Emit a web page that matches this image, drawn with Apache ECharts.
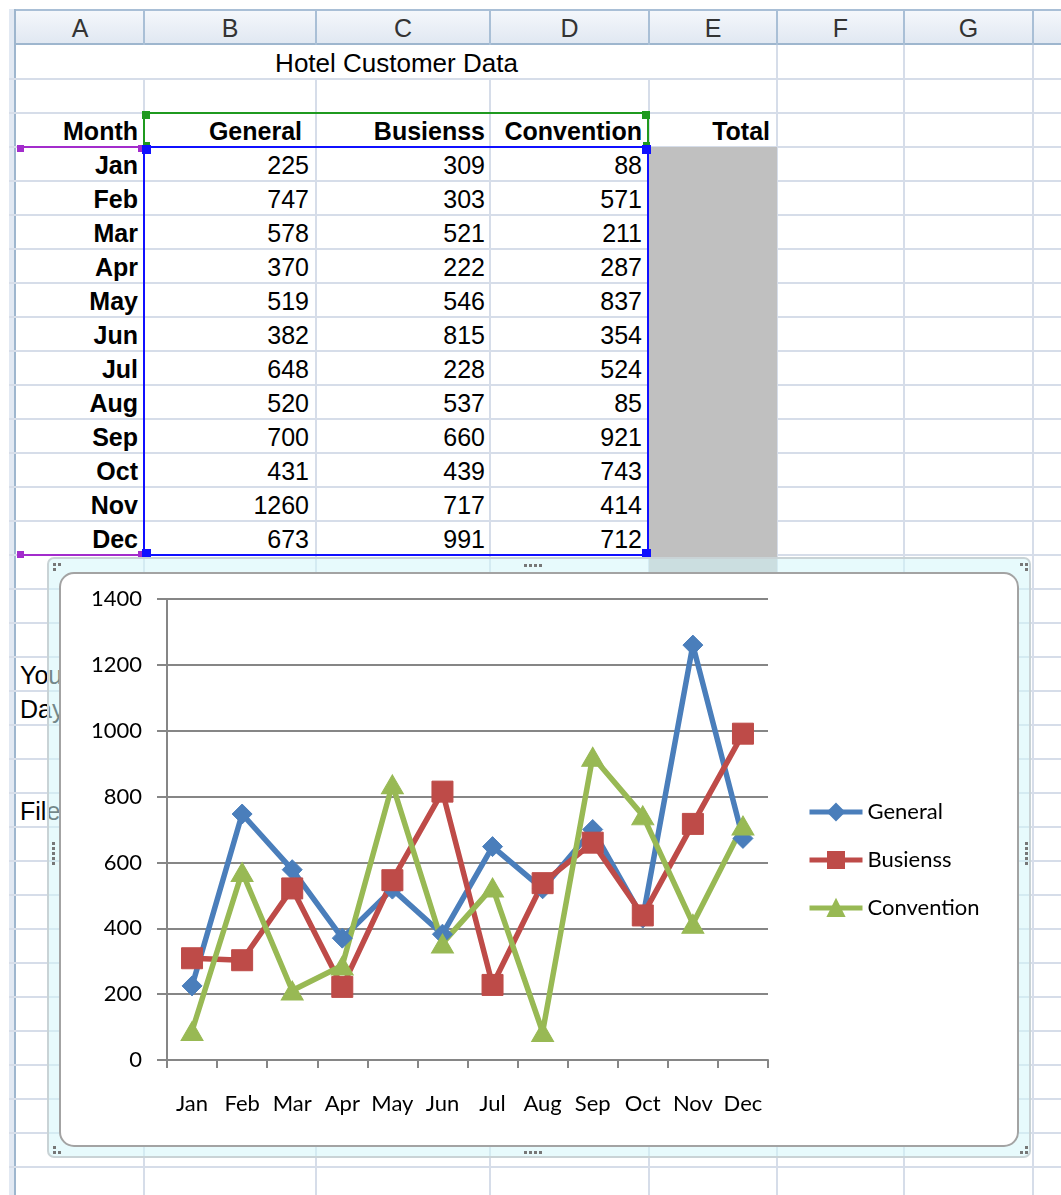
<!DOCTYPE html>
<html>
<head>
<meta charset="utf-8">
<script src="https://cdn.jsdelivr.net/npm/echarts@6/dist/echarts.min.js"></script>
<style>
  html, body { margin:0; padding:0; background:#fff; }
  body { width:1061px; height:1195px; position:relative; overflow:hidden; font-family:"Liberation Sans", Arial, sans-serif; }
  .abs { position:absolute; }
  .cell { position:absolute; height:34px; line-height:36px; font-size:25px; color:#000; white-space:nowrap; box-sizing:border-box; }
  .hdr { position:absolute; top:9px; height:36px; line-height:38px; font-size:25px; color:#333; text-align:center; }
  .dot { position:absolute; width:3px; height:3px; background:#777; }
</style>
</head>
<body>
<div id="sheet"></div>
<div class="abs" id="frame" style="left:47px;top:557px;width:984px;height:601px;box-sizing:border-box;border:2px solid #c9d3d6;border-radius:7px;background:rgba(212,246,250,0.55);"></div>
<div class="abs" id="inner" style="left:59px;top:572px;width:960px;height:575px;box-sizing:border-box;border:2px solid #a3a3a3;border-radius:15px;background:#fff;"></div>
<div class="abs" id="chart" style="left:59px;top:572px;width:960px;height:575px;"></div>
<div id="handles"></div>
<script>
// ---- data ----
const months = ['Jan','Feb','Mar','Apr','May','Jun','Jul','Aug','Sep','Oct','Nov','Dec'];
const seriesNames = ['General','Busienss','Convention'];
const general = [225,747,578,370,519,382,648,520,700,431,1260,673];
const business = [309,303,521,222,546,815,228,537,660,439,717,991];
const convention = [88,571,211,287,837,354,524,85,921,743,414,712];
const yTicks = { min:0, max:1400, interval:200 };
const title = 'Hotel Customer Data';
const colLetters = ['A','B','C','D','E','F','G','H'];

// ---- spreadsheet (HTML) ----
const sheet = document.getElementById('sheet');
const colEdges = [16,144,316,490,649,777,904,1033,1161];
const rowTop0 = 45, rowH = 34, nRows = 34;
function add(html){ sheet.insertAdjacentHTML('beforeend', html); }
function rowTop(r){ return rowTop0 + (r-1)*rowH; }

add('<div class="abs" style="left:9px;top:9px;width:1052px;height:36px;background:linear-gradient(#f4f7fb,#e1e8f2);border-top:2px solid #a9bfd6;border-bottom:2px solid #9eb6ce;box-sizing:border-box;"></div>');
add('<div class="abs" style="left:9px;top:9px;width:7px;height:1186px;background:#e2e9f3;border-right:2px solid #9eb6ce;box-sizing:border-box;"></div>');
for (let i=0;i<colLetters.length;i++){
  const x0 = colEdges[i], x1 = colEdges[i+1];
  add(`<div class="abs" style="left:${x1-1}px;top:10px;width:2px;height:35px;background:#a9bfd6;"></div>`);
  add(`<div class="hdr" style="left:${x0}px;width:${x1-x0}px;">${colLetters[i]}</div>`);
}
for (let r=1;r<=nRows;r++){
  const y = rowTop(r)+rowH;
  add(`<div class="abs" style="left:9px;top:${y-1}px;width:1052px;height:2px;background:#d6dde9;"></div>`);
}
for (let i=1;i<colEdges.length;i++){
  const x = colEdges[i];
  const startY = (x < 777) ? rowTop(2) : rowTop0;   // A1:E1 merged
  add(`<div class="abs" style="left:${x-1}px;top:${startY}px;width:2px;height:${1195-startY}px;background:#d6dde9;"></div>`);
}
add(`<div class="abs" style="left:649px;top:${rowTop(4)}px;width:128px;height:${rowH*13}px;background:#c0c0c0;"></div>`);

function cell(ci, r, text, opt){
  opt = opt || {};
  const x0 = colEdges[ci], x1 = colEdges[ci+1];
  const pad = opt.pad != null ? opt.pad : 6;
  const align = opt.align || 'right';
  const style = `left:${x0}px;top:${rowTop(r)}px;width:${x1-x0}px;text-align:${align};` +
    (align==='right' ? `padding-right:${pad}px;` : `padding-left:${pad}px;`) +
    (opt.bold ? 'font-weight:bold;' : '');
  add(`<div class="cell" style="${style}">${text}</div>`);
}
add(`<div class="cell" style="left:16px;top:${rowTop(1)}px;width:761px;text-align:center;font-size:26px;">${title}</div>`);
cell(0,3,'Month',{bold:true,pad:6});
cell(1,3,seriesNames[0],{bold:true,pad:14});
cell(2,3,seriesNames[1],{bold:true,pad:5});
cell(3,3,seriesNames[2],{bold:true,pad:7});
cell(4,3,'Total',{bold:true,pad:7});
months.forEach((m,i)=>{
  const r = 4+i;
  cell(0,r,m,{bold:true,pad:6});
  cell(1,r,String(general[i]),{pad:7});
  cell(2,r,String(business[i]),{pad:5});
  cell(3,r,String(convention[i]),{pad:7});
});
cell(0,19,'You',{align:'left',pad:4});
cell(0,20,'Day',{align:'left',pad:4});
cell(0,23,'File',{align:'left',pad:4});

function hline(x0,x1,y,c){ add(`<div class="abs" style="left:${x0}px;top:${y-1}px;width:${x1-x0}px;height:2px;background:${c};"></div>`); }
function vline(x,y0,y1,c){ add(`<div class="abs" style="left:${x-1}px;top:${y0}px;width:2px;height:${y1-y0}px;background:${c};"></div>`); }
function sq(x,y,c,s){ s=s||8; add(`<div class="abs" style="left:${x-s/2}px;top:${y-s/2}px;width:${s}px;height:${s}px;background:${c};"></div>`); }
const purple='#a32ccc', green='#1f9a1f', blue='#1010ff';
hline(19,144,147,purple); hline(19,144,555,purple);
sq(20,148,purple,7); sq(141,148,purple,7); sq(20,554,purple,7); sq(141,554,purple,7);
hline(144,648,113,green); vline(144,113,147,green); vline(648,113,147,green);
sq(146,115,green,8); sq(646,115,green,8); sq(146,145,green,7); sq(646,145,green,7);
hline(144,648,147,blue); hline(144,648,555,blue); vline(144,147,555,blue); vline(648,147,555,blue);
sq(146,149,blue,9); sq(646,149,blue,9); sq(146,553,blue,9); sq(646,553,blue,9);

const hd = document.getElementById('handles');
function dot(x,y){ hd.insertAdjacentHTML('beforeend',`<div class="dot" style="left:${x}px;top:${y}px;"></div>`); }
[524,529,534,539].forEach(x=>{ dot(x,564); dot(x,1151); });
[842,847,852,857,862].forEach(y=>{ dot(52,y); dot(1025,y); });
dot(53,563); dot(58,563); dot(53,568);
dot(1020,563); dot(1025,563); dot(1025,568);
dot(53,1151); dot(58,1151); dot(53,1146);
dot(1020,1151); dot(1025,1151); dot(1025,1146);

// ---- chart (ECharts) ----
const chart = echarts.init(document.getElementById('chart'), null, {renderer:'canvas'});
const gray = '#868686';
const font = 'Lato, "Open Sans", sans-serif';
const colors = ['#4a7ebb','#be4b48','#98b954'];
const symbols = ['diamond','rect','triangle'];
const symbolSizes = [[20,20],[21,21],[22,19]];
const values = [general, business, convention];
chart.setOption({
  animation:false,
  color: colors,
  textStyle:{ fontFamily: font },
  grid:{ left:108, top:27, width:601, height:461, containLabel:false },
  legend:{
    orient:'vertical', left:743, top:224,
    itemWidth:53, itemHeight:20, itemGap:26,
    lineStyle:{ width:5 },
    textStyle:{ fontFamily:font, fontSize:22, color:'#000' },
    data: seriesNames
  },
  xAxis:{
    type:'category', data:months, boundaryGap:true,
    axisLine:{ show:true, lineStyle:{ color:gray, width:2 } },
    axisTick:{ show:true, length:8, alignWithLabel:false, interval:0, lineStyle:{ color:gray, width:2 } },
    axisLabel:{ interval:0, fontFamily:font, fontSize:22, color:'#000', margin:33 },
    splitLine:{ show:false }
  },
  yAxis:{
    type:'value', min:yTicks.min, max:yTicks.max, interval:yTicks.interval,
    axisLine:{ show:true, lineStyle:{ color:gray, width:2 } },
    axisTick:{ show:true, length:10, lineStyle:{ color:gray, width:2 } },
    axisLabel:{ fontFamily:font, fontSize:22, color:'#000', margin:25, formatter:(v)=>String(v) },
    splitLine:{ show:true, lineStyle:{ color:gray, width:2 } }
  },
  series: seriesNames.map((n,i)=>({
    name:n, type:'line', data:values[i],
    symbol:symbols[i], symbolSize:symbolSizes[i], showAllSymbol:true,
    lineStyle:{ width:5.5, color:colors[i] },
    itemStyle:{ color:colors[i], borderColor:colors[i], borderWidth:1 },
    emphasis:{ disabled:true }
  }))
});
</script>
</body>
</html>
